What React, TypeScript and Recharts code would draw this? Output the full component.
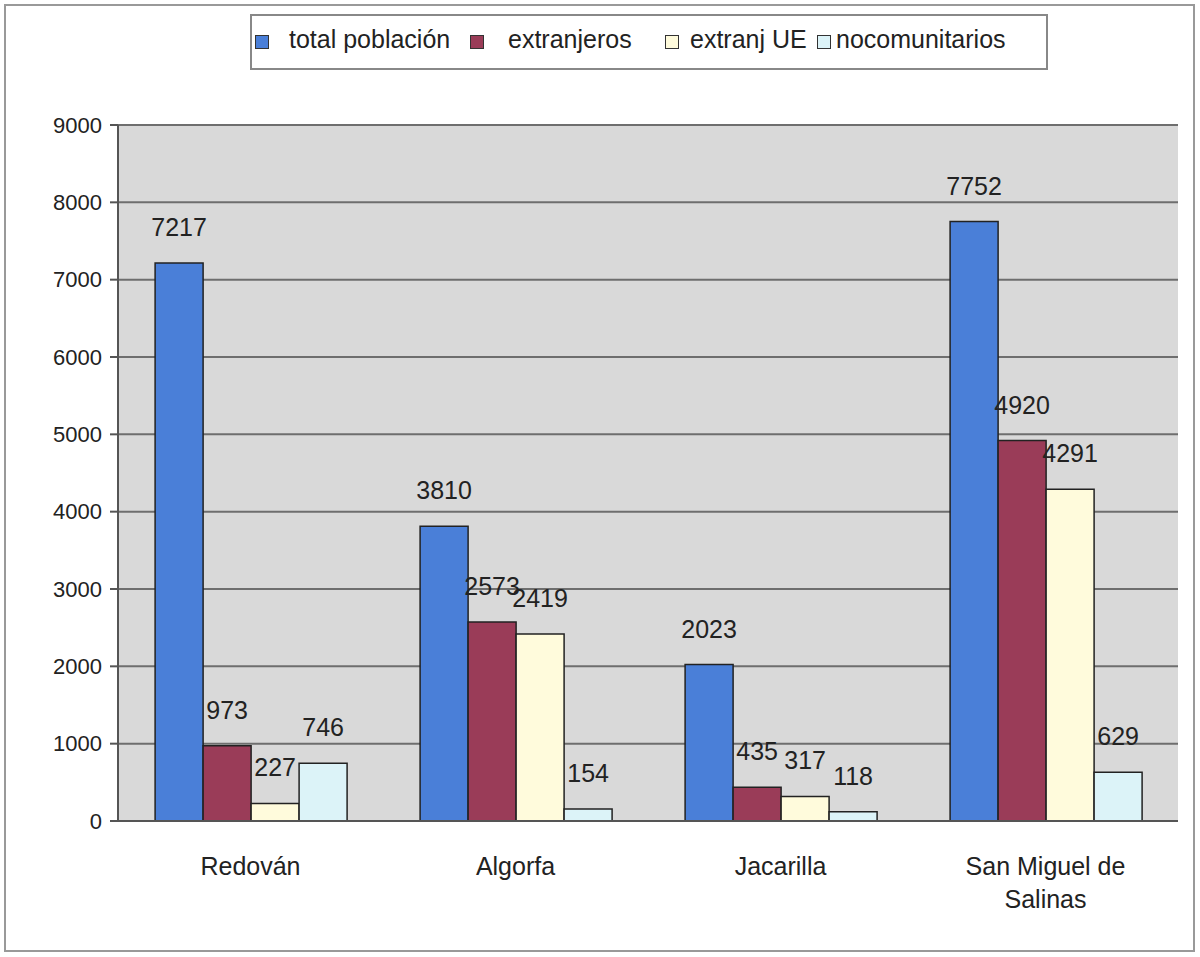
import { BarChart, Bar, XAxis, YAxis, CartesianGrid, LabelList } from "recharts";

const municipios = ["Redován", "Algorfa", "Jacarilla", "San Miguel de Salinas"];
const totalPoblacion = [7217, 3810, 2023, 7752];
const extranjeros = [973, 2573, 435, 4920];
const extranjUE = [227, 2419, 317, 4291];
const noComunitarios = [746, 154, 118, 629];
const yTicks = [0, 1000, 2000, 3000, 4000, 5000, 6000, 7000, 8000, 9000];

const series = [
  { key: "total", name: "total población", color: "#4a7fd8", sq: 255, tx: 289 },
  { key: "extr", name: "extranjeros", color: "#9a3c58", sq: 470, tx: 508 },
  { key: "ue", name: "extranj UE", color: "#fffbdc", sq: 665, tx: 690 },
  { key: "nocom", name: "nocomunitarios", color: "#dcf3f8", sq: 817, tx: 836 },
];

const data = municipios.map((m, i) => ({
  name: m,
  total: totalPoblacion[i],
  extr: extranjeros[i],
  ue: extranjUE[i],
  nocom: noComunitarios[i],
}));

const font = "'Liberation Sans', Arial, sans-serif";

// rough word wrap, ~0.55em per char
function wrap(label: string, maxWidth: number, fontSize: number) {
  const lines: string[] = [];
  let cur = "";
  for (const w of label.split(" ")) {
    const next = cur ? cur + " " + w : w;
    if (cur && next.length * fontSize * 0.55 > maxWidth) {
      lines.push(cur);
      cur = w;
    } else {
      cur = next;
    }
  }
  if (cur) lines.push(cur);
  return lines;
}

function CategoryTick(props: any) {
  const { x, y, payload } = props;
  const lines = wrap(payload.value, 185, 25);
  return (
    <text x={x} y={y + 46} textAnchor="middle" fontSize={25} fill="#222" fontFamily={font}>
      {lines.map((l, i) => (
        <tspan key={i} x={x} dy={i === 0 ? 0 : 33}>
          {l}
        </tspan>
      ))}
    </text>
  );
}

function LegendBox() {
  return (
    <div
      style={{
        position: "absolute",
        left: 250,
        top: 14,
        width: 798,
        height: 56,
        border: "2px solid #888",
        boxSizing: "border-box",
        fontFamily: font,
        fontSize: 25,
        color: "#222",
        background: "#fff",
      }}
    >
      {series.map((s) => (
        <div key={s.key}>
          <span
            style={{
              position: "absolute",
              left: s.sq - 252,
              top: 19,
              width: 12,
              height: 12,
              background: s.color,
              border: "1.5px solid #333",
            }}
          />
          <span style={{ position: "absolute", left: s.tx - 252, top: 9, whiteSpace: "nowrap" }}>
            {s.name}
          </span>
        </div>
      ))}
    </div>
  );
}

export default function App() {
  return (
    <div style={{ position: "absolute", left: 0, top: 0, width: 1200, height: 957, background: "#fff" }}>
      <div
        style={{
          position: "absolute",
          left: 4,
          top: 4,
          width: 1191,
          height: 948,
          border: "2px solid #999",
          boxSizing: "border-box",
        }}
      />
      <div style={{ position: "absolute", left: 0, top: 0 }}>
        <BarChart
          width={1200}
          height={957}
          data={data}
          margin={{ top: 125, right: 22, bottom: 36, left: 0 }}
          barCategoryGap="14%"
          barGap={0}
        >
          <CartesianGrid vertical={false} stroke="#6e6e6e" strokeWidth={2} fill="#d9d9d9" fillOpacity={1} />
          <XAxis
            dataKey="name"
            height={100}
            tick={<CategoryTick />}
            tickLine={false}
            axisLine={{ stroke: "#555", strokeWidth: 2 }}
            interval={0}
          />
          <YAxis
            width={118}
            domain={[0, 9000]}
            ticks={yTicks}
            interval={0}
            tick={{ fontSize: 22, fill: "#222", fontFamily: font, dx: -6 }}
            tickLine={{ stroke: "#555", strokeWidth: 2 }}
            tickSize={8}
            axisLine={{ stroke: "#555", strokeWidth: 2 }}
          />
          <YAxis
            yAxisId="frame"
            orientation="right"
            width={0}
            tick={false}
            tickLine={false}
            axisLine={{ stroke: "#666", strokeWidth: 1.5 }}
          />
          {series.map((s) => (
            <Bar
              key={s.key}
              dataKey={s.key}
              name={s.name}
              fill={s.color}
              stroke="#222"
              strokeWidth={1.5}
              isAnimationActive={false}
            >
              <LabelList
                dataKey={s.key}
                position="top"
                offset={27}
                fontSize={25}
                fill="#222"
                fontFamily={font}
              />
            </Bar>
          ))}
        </BarChart>
      </div>
      <LegendBox />
    </div>
  );
}
